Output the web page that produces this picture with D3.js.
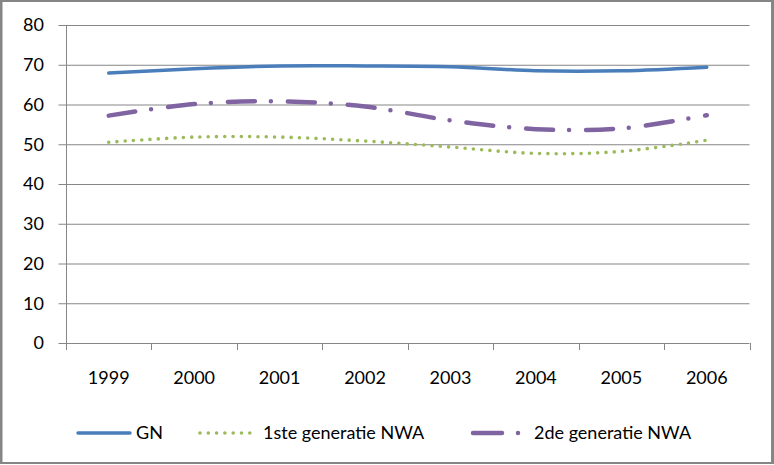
<!DOCTYPE html>
<html><head><meta charset="utf-8">
<script src="https://cdn.jsdelivr.net/npm/d3@7"></script>
<style>body{margin:0;background:#fff}svg{display:block}text{font-family:Lato,"Open Sans",sans-serif;fill:#000}</style>
</head><body><svg id="c" width="774" height="465"></svg>
<script>
const years = ["1999","2000","2001","2002","2003","2004","2005","2006"];
const gn = [67.9, 69.0, 69.7, 69.7, 69.5, 68.5, 68.5, 69.4];
const gen1 = [50.5, 51.8, 51.8, 50.8, 49.3, 47.7, 48.2, 51.0];
const gen2 = [57.2, 60.1, 60.8, 59.5, 56.0, 53.8, 54.0, 57.3];
const yTicks = [0,10,20,30,40,50,60,70,80];
const seriesNames = ["GN","1ste generatie NWA","2de generatie NWA"];

const svg = d3.select("#c");
const grey = "#868686";
const L = 66, R = 749.5, T = 25, B = 343;
const x = d3.scaleBand().domain(years).range([L, R]);
const y = d3.scaleLinear().domain([0, 80]).range([B, T]);

// border
svg.append("rect").attr("x",0).attr("y",0).attr("width",774).attr("height",2).attr("fill",grey);
svg.append("rect").attr("x",0).attr("y",0).attr("width",2.5).attr("height",464).attr("fill",grey);
svg.append("rect").attr("x",771).attr("y",0).attr("width",3).attr("height",464).attr("fill",grey);
svg.append("rect").attr("x",0).attr("y",462).attr("width",774).attr("height",2).attr("fill",grey);

// y axis with gridlines
const ya = svg.append("g").attr("transform",`translate(${L},0)`)
  .call(d3.axisLeft(y).tickValues(yTicks).tickSize(8).tickPadding(14).tickFormat(d3.format("d")));
ya.select(".domain").attr("stroke",grey).attr("d",`M0.5,${T}V${B}`);
ya.selectAll(".tick line").attr("stroke",grey).attr("x1",0.5-8).attr("x2",R-L);
ya.selectAll(".tick text").attr("font-size",18).attr("font-family","Lato").attr("fill","#000");

// x axis
const xa = svg.append("g").attr("transform",`translate(0,${B})`)
  .call(d3.axisBottom(x).tickSize(0).tickPadding(28));
xa.select(".domain").remove();
xa.selectAll(".tick text").attr("font-size",18).attr("font-family","Lato").attr("fill","#000");
const bounds = [...years.map(d=>x(d)), R];
svg.append("g").selectAll("line").data(bounds).join("line")
  .attr("x1",d=>Math.round(d)+0.5).attr("x2",d=>Math.round(d)+0.5)
  .attr("y1",B).attr("y2",B+7).attr("stroke",grey);

const cx = d => x(d) + x.bandwidth()/2;
const line = d3.line().x((d,i)=>cx(years[i])).y(d=>y(d)).curve(d3.curveCatmullRom.alpha(0.5));

const styles = [
  {color:"#4a7ebb", width:3.5, dash:null, cap:"round"},
  {color:"#9bbb59", width:3.6, dash:"0 8.3", cap:"round"},
  {color:"#8064a2", width:4.5, dash:"27 16 0 17", cap:"round"}
];
const data = [gn, gen1, gen2];
data.forEach((s,i)=>{
  const st = styles[i];
  svg.append("path").attr("d",line(s)).attr("fill","none")
    .attr("stroke",st.color).attr("stroke-width",st.width)
    .attr("stroke-linecap",st.cap).attr("stroke-linejoin","round")
    .attr("stroke-dasharray",st.dash);
});

// legend
const ly = 433;
const leg = [
  {x1:78, x2:130, tx:136},
  {x1:200, x2:254, tx:263},
  {x1:473, x2:530, tx:534}
];
leg.forEach((l,i)=>{
  const st = styles[i];
  svg.append("line").attr("x1",l.x1).attr("x2",l.x2).attr("y1",ly).attr("y2",ly)
    .attr("stroke",st.color).attr("stroke-width",st.width)
    .attr("stroke-linecap",st.cap).attr("stroke-dasharray",i===2?"29 16 0 40":st.dash);
  svg.append("text").attr("x",l.tx).attr("y",ly).attr("dy","0.35em")
    .attr("font-size",18).text(seriesNames[i]);
});
</script></body></html>
